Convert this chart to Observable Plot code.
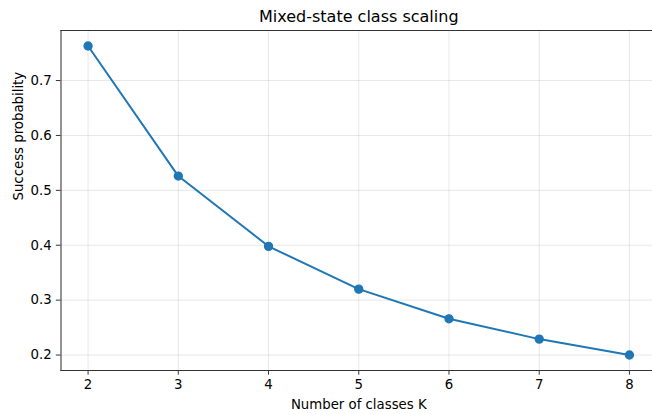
<!DOCTYPE html>
<html>
<head>
<meta charset="utf-8">
<script src="https://cdn.jsdelivr.net/npm/d3@7"></script>
<script src="https://cdn.jsdelivr.net/npm/@observablehq/plot@0.6"></script>
<style>
  html, body { margin: 0; padding: 0; background: white; }
  #chart svg { display: block; font-family: "DejaVu Sans", sans-serif; }
</style>
</head>
<body>
<div id="chart"></div>
<script>
const classesK = [2, 3, 4, 5, 6, 7, 8];
const successProb = [0.763, 0.526, 0.398, 0.320, 0.266, 0.229, 0.200];
const xTicks = [2, 3, 4, 5, 6, 7, 8];
const yTicks = [0.2, 0.3, 0.4, 0.5, 0.6, 0.7];
const titleText = "Mixed-state class scaling";
const xLabel = "Number of classes K";
const yLabel = "Success probability";

const data = classesK.map((k, i) => ({k, p: successProb[i]}));

const fs = 13.3;
const tick = 4.67;

const chart = Plot.plot({
  width: 652,
  height: 414,
  marginLeft: 60.5,
  marginRight: -4,
  marginTop: 30,
  marginBottom: 44,
  style: {fontFamily: "DejaVu Sans, sans-serif", fontSize: fs + "px", color: "#000", background: "white"},
  x: {domain: [1.7, 8.3], ticks: xTicks},
  y: {domain: [0.1718, 0.7912], ticks: yTicks},
  marks: [
    Plot.gridX(xTicks, {stroke: "#b0b0b0", strokeOpacity: 0.3, strokeWidth: 1}),
    Plot.gridY(yTicks, {stroke: "#b0b0b0", strokeOpacity: 0.3, strokeWidth: 1}),
    Plot.line(data, {x: "k", y: "p", stroke: "#1f77b4", strokeWidth: 2}),
    Plot.dot(data, {x: "k", y: "p", r: 4, fill: "#1f77b4", stroke: "#1f77b4", strokeWidth: 1.33}),
    Plot.frame({anchor: "top", stroke: "#333", strokeWidth: 1.07}),
    Plot.frame({anchor: "left", stroke: "#333", strokeWidth: 1.07}),
    Plot.frame({anchor: "bottom", stroke: "#333", strokeWidth: 1.07}),
    Plot.axisX(xTicks, {tickSize: tick, tickPadding: tick, fontSize: fs, label: null, tickFormat: d => String(d), stroke: "#333"}),
    Plot.axisY(yTicks, {tickSize: tick, tickPadding: tick, fontSize: fs, label: null, tickFormat: d3.format(".1f"), stroke: "#333"}),
    Plot.text([titleText], {frameAnchor: "top", dy: -14, lineAnchor: "middle", fontSize: 16, fill: "#000"}),
    Plot.text([xLabel], {frameAnchor: "bottom", dy: 34, lineAnchor: "middle", fontSize: fs, fill: "#000"}),
    Plot.text([yLabel], {frameAnchor: "left", dx: -42.5, rotate: -90, lineAnchor: "middle", fontSize: fs, fill: "#000"})
  ]
});
document.getElementById("chart").appendChild(chart);
</script>
</body>
</html>
